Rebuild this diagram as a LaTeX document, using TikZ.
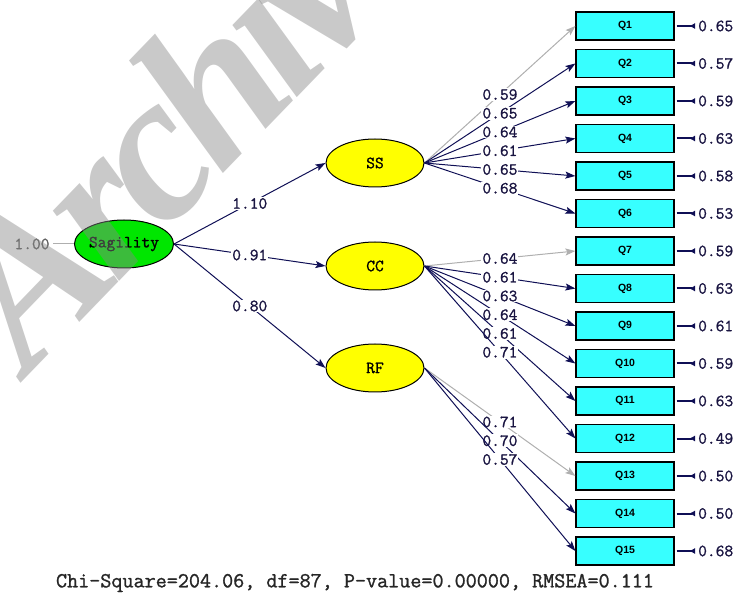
\documentclass[tikz,border=0pt]{standalone}
\usepackage{fontspec}
\setmainfont{Liberation Serif}
\setsansfont{Liberation Sans}
\setmonofont{Latin Modern Mono}[FakeBold=1.2]
\usepackage{tikz}
\usetikzlibrary{positioning, shapes.geometric, arrows.meta}
\definecolor{pdNavy}{RGB}{15, 15, 85}
\definecolor{pdText}{RGB}{25, 20, 65}
\definecolor{pdGray}{RGB}{175, 175, 175}
\definecolor{pdDim}{RGB}{95, 95, 95}
\definecolor{pdCyan}{RGB}{55, 255, 255}
\definecolor{pdYellow}{RGB}{255, 255, 0}
\definecolor{pdGreen}{RGB}{0, 230, 0}
\definecolor{pdMark}{RGB}{135, 135, 135}
\tikzset{
    base/.style={
        font=\ttfamily\fontsize{17}{17}\selectfont
    },
    latent/.style={
        base,
        ellipse,
        draw=black,
        line width=1pt,
        fill=pdYellow,
        inner sep=0pt,
        minimum width=98pt,
        minimum height=48pt
    },
    indicator/.style={
        rectangle,
        draw=black,
        line width=1.2pt,
        fill=pdCyan,
        inner sep=0pt,
        minimum width=98pt,
        minimum height=28pt,
        font=\sffamily\bfseries\fontsize{10.5}{11}\selectfont
    },
    load/.style={
        -{Stealth[length=10pt, width=7pt, inset=2pt]},
        line width=1pt,
        color=pdNavy
    },
    fixed/.style={
        load,
        color=pdGray
    },
    coef/.style={
        base,
        text=pdText,
        fill=white,
        inner sep=1pt
    },
    errlink/.style={
        -{Latex[reversed, length=6pt, width=6pt]},
        line width=2pt,
        color=pdNavy,
        shorten <=2pt,
        shorten >=2pt
    }
}

\begin{document}
\begin{tikzpicture}[x=1pt, y=-1pt]
    \useasboundingbox (0,0) rectangle (739,593);

    % Latent variables
    \node[latent, fill=pdGreen] (sag) at (124,244) {Sagility};
    \node[latent] (ss) at (375,163) {SS};
    \node[latent] (cc) at (375,266) {CC};
    \node[latent] (rf) at (375,368) {RF};

    % Items and their error terms
    \foreach \i/\e in {1/0.65, 2/0.57, 3/0.59, 4/0.63, 5/0.58, 6/0.53, 7/0.59, 8/0.63,
                       9/0.61, 10/0.59, 11/0.63, 12/0.49, 13/0.50, 14/0.50, 15/0.68} {
        \node[indicator] (q\i) at (625, {26+(\i-1)*37.5}) {Q\i};
        \node[coef, fill=none, anchor=west] (e\i) at (697, {26+(\i-1)*37.5}) {\e};
        \draw[errlink] (q\i.east) -- (e\i.west);
    }

    % Second-order paths
    \node[base, text=pdDim] (var) at (32,244) {1.00};
    \draw[pdGray, line width=1pt] (var.east) -- (sag.west);
    \draw[load] (sag.east) -- node[coef] {1.10} (ss.west);
    \draw[load] (sag.east) -- node[coef] {0.91} (cc.west);
    \draw[load] (sag.east) -- node[coef] {0.80} (rf.west);

    % SS loadings
    \draw[fixed] (ss.east) -- node[coef] {0.59} (q1.west);
    \draw[load] (ss.east) -- node[coef] {0.65} (q2.west);
    \draw[load] (ss.east) -- node[coef] {0.64} (q3.west);
    \draw[load] (ss.east) -- node[coef] {0.61} (q4.west);
    \draw[load] (ss.east) -- node[coef] {0.65} (q5.west);
    \draw[load] (ss.east) -- node[coef] {0.68} (q6.west);

    % CC loadings
    \draw[fixed] (cc.east) -- node[coef] {0.64} (q7.west);
    \draw[load] (cc.east) -- node[coef] {0.61} (q8.west);
    \draw[load] (cc.east) -- node[coef] {0.63} (q9.west);
    \draw[load] (cc.east) -- node[coef] {0.64} (q10.west);
    \draw[load] (cc.east) -- node[coef] {0.61} (q11.west);
    \draw[load] (cc.east) -- node[coef] {0.71} (q12.west);

    % RF loadings
    \draw[fixed] (rf.east) -- node[coef] {0.71} (q13.west);
    \draw[load] (rf.east) -- node[coef] {0.70} (q14.west);
    \draw[load] (rf.east) -- node[coef] {0.57} (q15.west);

    % Fit statistics
    \node[font=\ttfamily\fontsize{21.5}{21.5}\selectfont, text=black!85] (fit) at (355,583)
        {Chi-Square=204.06, df=87, P-value=0.00000, RMSEA=0.111};

    % Watermark
    \begin{scope}
        \clip (0,0) rectangle (739,593);
        \node[rotate=46, anchor=base west, inner sep=0pt, opacity=0.45, text=pdMark,
              font=\fontsize{210}{210}\selectfont\bfseries\itshape\addfontfeature{LetterSpace=-6}]
              (mark) at (28,376) {Archive};
    \end{scope}
\end{tikzpicture}
\end{document}
